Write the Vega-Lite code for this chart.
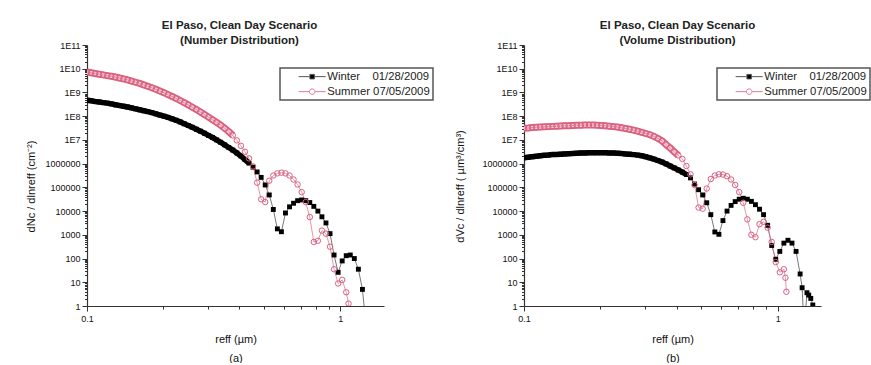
{
  "$schema": "https://vega.github.io/schema/vega-lite/v6.json",
  "background": "white",
  "padding": {"left": 25, "top": 19, "right": 0, "bottom": 0},
  "spacing": 20,
  "config": {
    "view": {"stroke": null},
    "font": "Liberation Sans",
    "axis": {"labelFont": "Liberation Sans", "labelFontSize": 9, "labelColor": "#111", "titleFont": "Liberation Sans", "titleFontSize": 11, "titleFontWeight": "normal", "titleColor": "#111", "domainColor": "#333", "domainWidth": 1.2, "tickColor": "#333", "tickWidth": 1, "grid": false, "labelOverlap": false, "labelBound": false, "labelFlush": false},
    "title": {"font": "Liberation Sans", "fontSize": 11.5, "fontWeight": "bold", "color": "#222", "anchor": "middle", "offset": -5, "lineHeight": 15},
    "legend": {"orient": "none", "legendX": 193, "legendY": 23, "title": null, "padding": 3, "rowPadding": 3, "labelFont": "Liberation Sans", "labelFontSize": 11.3, "labelColor": "#222", "symbolSize": 100, "labelOffset": 33, "strokeColor": "#555"}
  },
  "datasets": {
    "aw": [{"r":0.1,"v":4.68e8},{"r":0.1038,"v":4.47e8},{"r":0.1076,"v":4.17e8},{"r":0.1117,"v":3.98e8},{"r":0.1159,"v":3.72e8},{"r":0.1202,"v":3.55e8},{"r":0.1247,"v":3.31e8},{"r":0.1294,"v":3.02e8},{"r":0.1343,"v":2.82e8},{"r":0.1393,"v":2.63e8},{"r":0.1445,"v":2.45e8},{"r":0.15,"v":2.24e8},{"r":0.1556,"v":2.04e8},{"r":0.1614,"v":1.86e8},{"r":0.1675,"v":1.70e8},{"r":0.1738,"v":1.55e8},{"r":0.1803,"v":1.41e8},{"r":0.1871,"v":1.26e8},{"r":0.1941,"v":1.12e8},{"r":0.2014,"v":1.0e8},{"r":0.2089,"v":8.91e7},{"r":0.2168,"v":7.76e7},{"r":0.2249,"v":6.76e7},{"r":0.2333,"v":5.75e7},{"r":0.2421,"v":4.79e7},{"r":0.2512,"v":4.07e7},{"r":0.2606,"v":3.39e7},{"r":0.2704,"v":2.82e7},{"r":0.2805,"v":2.34e7},{"r":0.2911,"v":1.91e7},{"r":0.302,"v":1.55e7},{"r":0.3133,"v":1.26e7},{"r":0.3251,"v":1.0e7},{"r":0.3373,"v":7.94e6},{"r":0.3499,"v":6.17e6},{"r":0.3631,"v":4.79e6},{"r":0.3767,"v":3.72e6},{"r":0.3908,"v":2.82e6},{"r":0.4055,"v":2.09e6},{"r":0.4207,"v":1.48e6},{"r":0.4365,"v":1.05e6},{"r":0.4529,"v":7.08e5},{"r":0.4699,"v":4.47e5},{"r":0.4875,"v":2.63e5},{"r":0.5058,"v":1.26e5},{"r":0.5248,"v":4.79e4},{"r":0.5445,"v":1.17e4},{"r":0.5649,"v":1.78e3},{"r":0.5861,"v":1.35e3},{"r":0.6081,"v":8.32e3},{"r":0.631,"v":1.51e4},{"r":0.6546,"v":2.14e4},{"r":0.6792,"v":2.75e4},{"r":0.7047,"v":2.95e4},{"r":0.7311,"v":2.75e4},{"r":0.7586,"v":2.29e4},{"r":0.787,"v":1.58e4},{"r":0.8166,"v":1.0e4},{"r":0.8472,"v":5.75e3},{"r":0.879,"v":3.16e3},{"r":0.912,"v":1.12e3},{"r":0.9462,"v":141},{"r":0.9817,"v":26.3},{"r":1.0186,"v":79.4},{"r":1.0568,"v":132},{"r":1.0965,"v":141},{"r":1.1376,"v":100},{"r":1.1803,"v":35.5},{"r":1.2246,"v":5.01},{"r":1.2706,"v":0.1}],
    "as": [{"r":0.1,"v":7.24e9},{"r":0.1038,"v":6.76e9},{"r":0.1076,"v":6.31e9},{"r":0.1117,"v":5.89e9},{"r":0.1159,"v":5.50e9},{"r":0.1202,"v":5.13e9},{"r":0.1247,"v":4.79e9},{"r":0.1294,"v":4.47e9},{"r":0.1343,"v":4.07e9},{"r":0.1393,"v":3.72e9},{"r":0.1445,"v":3.39e9},{"r":0.15,"v":3.02e9},{"r":0.1556,"v":2.69e9},{"r":0.1614,"v":2.40e9},{"r":0.1675,"v":2.09e9},{"r":0.1738,"v":1.82e9},{"r":0.1803,"v":1.58e9},{"r":0.1871,"v":1.35e9},{"r":0.1941,"v":1.15e9},{"r":0.2014,"v":9.77e8},{"r":0.2089,"v":8.13e8},{"r":0.2168,"v":6.76e8},{"r":0.2249,"v":5.62e8},{"r":0.2333,"v":4.57e8},{"r":0.2421,"v":3.72e8},{"r":0.2512,"v":3.02e8},{"r":0.2606,"v":2.40e8},{"r":0.2704,"v":1.91e8},{"r":0.2805,"v":1.51e8},{"r":0.2911,"v":1.17e8},{"r":0.302,"v":9.12e7},{"r":0.3133,"v":7.08e7},{"r":0.3251,"v":5.50e7},{"r":0.3373,"v":4.17e7},{"r":0.3499,"v":3.09e7},{"r":0.3631,"v":2.24e7},{"r":0.3767,"v":1.55e7},{"r":0.3908,"v":9.55e6},{"r":0.4055,"v":5.62e6},{"r":0.4207,"v":3.16e6},{"r":0.4365,"v":1.66e6},{"r":0.4529,"v":7.59e5},{"r":0.4699,"v":1.58e5},{"r":0.4875,"v":3.16e4},{"r":0.5058,"v":2.40e4},{"r":0.5248,"v":1.91e5},{"r":0.5445,"v":3.16e5},{"r":0.5649,"v":3.89e5},{"r":0.5861,"v":4.17e5},{"r":0.6081,"v":3.89e5},{"r":0.631,"v":3.16e5},{"r":0.6546,"v":2.14e5},{"r":0.6792,"v":1.32e5},{"r":0.7047,"v":6.31e4},{"r":0.7311,"v":2.40e4},{"r":0.7586,"v":5.62e3},{"r":0.787,"v":501},{"r":0.8166,"v":562},{"r":0.8472,"v":1.51e3},{"r":0.879,"v":1.12e3},{"r":0.912,"v":316},{"r":0.9462,"v":35.5},{"r":0.9817,"v":8.91},{"r":1.0186,"v":12.6},{"r":1.0568,"v":3.80},{"r":1.079,"v":1.26},{"r":1.097,"v":0.1}],
    "bw": [{"r":0.1,"v":1.78e6},{"r":0.1038,"v":1.86e6},{"r":0.1076,"v":1.95e6},{"r":0.1117,"v":2.04e6},{"r":0.1159,"v":2.14e6},{"r":0.1202,"v":2.24e6},{"r":0.1247,"v":2.29e6},{"r":0.1294,"v":2.40e6},{"r":0.1343,"v":2.45e6},{"r":0.1393,"v":2.51e6},{"r":0.1445,"v":2.57e6},{"r":0.15,"v":2.63e6},{"r":0.1556,"v":2.69e6},{"r":0.1614,"v":2.75e6},{"r":0.1675,"v":2.82e6},{"r":0.1738,"v":2.82e6},{"r":0.1803,"v":2.88e6},{"r":0.1871,"v":2.88e6},{"r":0.1941,"v":2.88e6},{"r":0.2014,"v":2.88e6},{"r":0.2089,"v":2.88e6},{"r":0.2168,"v":2.82e6},{"r":0.2249,"v":2.82e6},{"r":0.2333,"v":2.75e6},{"r":0.2421,"v":2.69e6},{"r":0.2512,"v":2.57e6},{"r":0.2606,"v":2.51e6},{"r":0.2704,"v":2.40e6},{"r":0.2805,"v":2.29e6},{"r":0.2911,"v":2.14e6},{"r":0.302,"v":1.95e6},{"r":0.3133,"v":1.74e6},{"r":0.3251,"v":1.55e6},{"r":0.3373,"v":1.35e6},{"r":0.3499,"v":1.17e6},{"r":0.3631,"v":9.77e5},{"r":0.3767,"v":7.94e5},{"r":0.3908,"v":6.61e5},{"r":0.4055,"v":5.37e5},{"r":0.4207,"v":4.37e5},{"r":0.4365,"v":3.47e5},{"r":0.4529,"v":2.51e5},{"r":0.4699,"v":1.38e5},{"r":0.4875,"v":7.94e4},{"r":0.5058,"v":4.79e4},{"r":0.5248,"v":2.24e4},{"r":0.5445,"v":7.08e3},{"r":0.5649,"v":1.32e3},{"r":0.5861,"v":1.05e3},{"r":0.6081,"v":3.98e3},{"r":0.631,"v":1.0e4},{"r":0.6546,"v":1.74e4},{"r":0.6792,"v":2.51e4},{"r":0.7047,"v":3.16e4},{"r":0.7311,"v":3.47e4},{"r":0.7586,"v":3.16e4},{"r":0.787,"v":2.57e4},{"r":0.8166,"v":1.86e4},{"r":0.8472,"v":1.20e4},{"r":0.879,"v":7.08e3},{"r":0.912,"v":2.51e3},{"r":0.9462,"v":355},{"r":0.9817,"v":93.3},{"r":1.0186,"v":200},{"r":1.0568,"v":447},{"r":1.0965,"v":589},{"r":1.1376,"v":447},{"r":1.1803,"v":200},{"r":1.2246,"v":22.4},{"r":1.247,"v":5.89},{"r":1.2706,"v":0.1},{"r":1.303,"v":3.63},{"r":1.324,"v":2.88},{"r":1.349,"v":2.09},{"r":1.374,"v":1.10},{"r":1.40,"v":0.1}],
    "bs": [{"r":0.1,"v":3.09e7},{"r":0.1038,"v":3.16e7},{"r":0.1076,"v":3.31e7},{"r":0.1117,"v":3.39e7},{"r":0.1159,"v":3.47e7},{"r":0.1202,"v":3.55e7},{"r":0.1247,"v":3.63e7},{"r":0.1294,"v":3.72e7},{"r":0.1343,"v":3.80e7},{"r":0.1393,"v":3.89e7},{"r":0.1445,"v":3.98e7},{"r":0.15,"v":3.98e7},{"r":0.1556,"v":4.07e7},{"r":0.1614,"v":4.17e7},{"r":0.1675,"v":4.17e7},{"r":0.1738,"v":4.27e7},{"r":0.1803,"v":4.27e7},{"r":0.1871,"v":4.27e7},{"r":0.1941,"v":4.17e7},{"r":0.2014,"v":4.07e7},{"r":0.2089,"v":3.98e7},{"r":0.2168,"v":3.80e7},{"r":0.2249,"v":3.63e7},{"r":0.2333,"v":3.47e7},{"r":0.2421,"v":3.24e7},{"r":0.2512,"v":3.02e7},{"r":0.2606,"v":2.82e7},{"r":0.2704,"v":2.57e7},{"r":0.2805,"v":2.34e7},{"r":0.2911,"v":2.09e7},{"r":0.302,"v":1.86e7},{"r":0.3133,"v":1.66e7},{"r":0.3251,"v":1.41e7},{"r":0.3373,"v":1.15e7},{"r":0.3499,"v":9.12e6},{"r":0.3631,"v":6.31e6},{"r":0.3767,"v":4.57e6},{"r":0.3908,"v":3.16e6},{"r":0.4055,"v":2.24e6},{"r":0.4207,"v":1.58e6},{"r":0.4365,"v":7.94e5},{"r":0.4529,"v":3.55e5},{"r":0.4699,"v":1.26e5},{"r":0.4875,"v":1.41e4},{"r":0.5058,"v":1.26e4},{"r":0.5248,"v":8.91e4},{"r":0.5445,"v":2.24e5},{"r":0.5649,"v":3.16e5},{"r":0.5861,"v":3.55e5},{"r":0.6081,"v":3.47e5},{"r":0.631,"v":2.95e5},{"r":0.6546,"v":2.14e5},{"r":0.6792,"v":1.26e5},{"r":0.7047,"v":6.31e4},{"r":0.7311,"v":2.24e4},{"r":0.7586,"v":4.47e3},{"r":0.787,"v":1.0e3},{"r":0.8166,"v":794},{"r":0.8472,"v":2.82e3},{"r":0.879,"v":3.55e3},{"r":0.912,"v":2.0e3},{"r":0.9462,"v":501},{"r":0.9817,"v":70.8},{"r":1.0186,"v":26.3},{"r":1.0568,"v":35.5},{"r":1.072,"v":15.5},{"r":1.081,"v":3.98}]
  },
  "hconcat": [
    {
      "width": 297, "height": 261,
      "title": {"text": ["El Paso, Clean Day Scenario", "(Number Distribution)"], "dx": 4},
      "encoding": {
        "x": {"field": "r", "type": "quantitative", "scale": {"type": "log", "domain": [0.1, 1.49], "nice": false},
          "axis": {"values": [0.1,0.2,0.3,0.4,0.5,0.6,0.7,0.8,0.9,1], "labelExpr": "datum.value == 0.1 ? '0.1' : (datum.value == 1 ? '1' : '')", "tickSize": {"condition": {"test": "datum.value == 0.1 || datum.value == 1", "value": 5}, "value": 3}, "labelPadding": 3, "title": ["reff (µm)", "(a)"], "titleLineHeight": 19, "titlePadding": 10}},
        "y": {"field": "v", "type": "quantitative", "scale": {"type": "log", "domain": [1, 1e11], "nice": false},
          "axis": {"values": [1,2,3,4,5,6,7,8,9,1e1,2e1,3e1,4e1,5e1,6e1,7e1,8e1,9e1,1e2,2e2,3e2,4e2,5e2,6e2,7e2,8e2,9e2,1e3,2e3,3e3,4e3,5e3,6e3,7e3,8e3,9e3,1e4,2e4,3e4,4e4,5e4,6e4,7e4,8e4,9e4,1e5,2e5,3e5,4e5,5e5,6e5,7e5,8e5,9e5,1e6,2e6,3e6,4e6,5e6,6e6,7e6,8e6,9e6,1e7,2e7,3e7,4e7,5e7,6e7,7e7,8e7,9e7,1e8,2e8,3e8,4e8,5e8,6e8,7e8,8e8,9e8,1e9,2e9,3e9,4e9,5e9,6e9,7e9,8e9,9e9,1e10,2e10,3e10,4e10,5e10,6e10,7e10,8e10,9e10,1e11],
            "labelExpr": "abs(log(datum.value)/LN10 - round(log(datum.value)/LN10)) < 0.001 ? (datum.value >= 1e7 ? '1E' + round(log(datum.value)/LN10) : format(datum.value, 'd')) : ''",
            "tickSize": {"condition": {"test": "abs(log(datum.value)/LN10 - round(log(datum.value)/LN10)) < 0.001", "value": 5}, "value": 2.5},
            "labelPadding": 2, "title": "dNc / dlnreff (cm⁻²)", "titleX": -56, "titleY": 141, "titleAngle": 270, "titleBaseline": "middle", "titleAlign": "center"}}
      },
      "layer": [
        {"data": {"name": "aw"}, "transform": [{"filter": "datum.r <= 0.44"}], "mark": {"type": "line", "strokeWidth": 5.5, "color": "#000000", "clip": true}},
        {"data": {"name": "as"}, "transform": [{"filter": "datum.r <= 0.38"}], "mark": {"type": "line", "strokeWidth": 7, "color": "#d9607f", "clip": true}},
        {"data": {"name": "as"}, "transform": [{"filter": "datum.r <= 0.38"}], "mark": {"type": "line", "strokeWidth": 3.5, "color": "#f4cdd8", "clip": true}},
        {"data": {"name": "aw"}, "mark": {"type": "line", "strokeWidth": 0.8, "clip": true},
         "encoding": {"color": {"datum": "Winter\u00a0\u00a0\u00a0\u00a001/28/2009", "scale": {"domain": ["Winter\u00a0\u00a0\u00a0\u00a001/28/2009", "Summer 07/05/2009"], "range": ["#555555", "#e07a95"]},
           "legend": {"encode": {
             "legend": {"update": {"stroke": {"value": "#555555"}, "strokeWidth": {"value": 1.5}}},
             "symbols": {"update": {
               "shape": {"signal": "datum.index === 0 ? 'M2.0,0H4.15M5.25,0H7.4M4.25,-0.45H5.15V0.45H4.25Z' : 'M2.0,0H4.1M5.3,0H7.4M5.25,0A0.55,0.55 0 1,1 4.15,0A0.55,0.55 0 1,1 5.25,0Z'"},
               "fill": {"signal": "datum.index === 0 ? '#000000' : '#ffffff'"},
               "stroke": {"signal": "datum.index === 0 ? '#444444' : '#d9607f'"},
               "strokeWidth": {"value": 1}, "opacity": {"value": 1}}}}}}}},
        {"data": {"name": "as"}, "mark": {"type": "line", "strokeWidth": 0.8, "clip": true},
         "encoding": {"color": {"datum": "Summer 07/05/2009"}}},
        {"data": {"name": "aw"}, "mark": {"type": "point", "shape": "square", "filled": true, "color": "#000000", "size": 24, "opacity": 1, "strokeWidth": 0, "clip": true}},
        {"data": {"name": "as"}, "mark": {"type": "point", "shape": "circle", "filled": false, "color": "#d9607f", "size": 30, "opacity": 1, "strokeWidth": 1, "clip": true}}
      ]
    },
    {
      "width": 297, "height": 261,
      "title": {"text": ["El Paso, Clean Day Scenario", "(Volume Distribution)"], "dx": 5},
      "encoding": {
        "x": {"field": "r", "type": "quantitative", "scale": {"type": "log", "domain": [0.1, 1.48], "nice": false},
          "axis": {"values": [0.1,0.2,0.3,0.4,0.5,0.6,0.7,0.8,0.9,1], "labelExpr": "datum.value == 0.1 ? '0.1' : (datum.value == 1 ? '1' : '')", "tickSize": {"condition": {"test": "datum.value == 0.1 || datum.value == 1", "value": 5}, "value": 3}, "labelPadding": 3, "title": ["reff (µm)", "(b)"], "titleLineHeight": 19, "titlePadding": 10}},
        "y": {"field": "v", "type": "quantitative", "scale": {"type": "log", "domain": [1, 1e11], "nice": false},
          "axis": {"values": [1,2,3,4,5,6,7,8,9,1e1,2e1,3e1,4e1,5e1,6e1,7e1,8e1,9e1,1e2,2e2,3e2,4e2,5e2,6e2,7e2,8e2,9e2,1e3,2e3,3e3,4e3,5e3,6e3,7e3,8e3,9e3,1e4,2e4,3e4,4e4,5e4,6e4,7e4,8e4,9e4,1e5,2e5,3e5,4e5,5e5,6e5,7e5,8e5,9e5,1e6,2e6,3e6,4e6,5e6,6e6,7e6,8e6,9e6,1e7,2e7,3e7,4e7,5e7,6e7,7e7,8e7,9e7,1e8,2e8,3e8,4e8,5e8,6e8,7e8,8e8,9e8,1e9,2e9,3e9,4e9,5e9,6e9,7e9,8e9,9e9,1e10,2e10,3e10,4e10,5e10,6e10,7e10,8e10,9e10,1e11],
            "labelExpr": "abs(log(datum.value)/LN10 - round(log(datum.value)/LN10)) < 0.001 ? (datum.value >= 1e7 ? '1E' + round(log(datum.value)/LN10) : format(datum.value, 'd')) : ''",
            "tickSize": {"condition": {"test": "abs(log(datum.value)/LN10 - round(log(datum.value)/LN10)) < 0.001", "value": 5}, "value": 2.5},
            "labelPadding": 2, "title": "dVc / dlnreff ( µm³/cm³)", "titleX": -64, "titleY": 141, "titleAngle": 270, "titleBaseline": "middle", "titleAlign": "center"}}
      },
      "layer": [
        {"data": {"name": "bw"}, "transform": [{"filter": "datum.r <= 0.45"}], "mark": {"type": "line", "strokeWidth": 5.5, "color": "#000000", "clip": true}},
        {"data": {"name": "bs"}, "transform": [{"filter": "datum.r <= 0.41"}], "mark": {"type": "line", "strokeWidth": 7, "color": "#d9607f", "clip": true}},
        {"data": {"name": "bs"}, "transform": [{"filter": "datum.r <= 0.41"}], "mark": {"type": "line", "strokeWidth": 3.5, "color": "#f4cdd8", "clip": true}},
        {"data": {"name": "bw"}, "mark": {"type": "line", "strokeWidth": 0.8, "clip": true},
         "encoding": {"color": {"datum": "Winter\u00a0\u00a0\u00a0\u00a001/28/2009", "scale": {"domain": ["Winter\u00a0\u00a0\u00a0\u00a001/28/2009", "Summer 07/05/2009"], "range": ["#555555", "#e07a95"]},
           "legend": {"encode": {
             "legend": {"update": {"stroke": {"value": "#555555"}, "strokeWidth": {"value": 1.5}}},
             "symbols": {"update": {
               "shape": {"signal": "datum.index === 0 ? 'M2.0,0H4.15M5.25,0H7.4M4.25,-0.45H5.15V0.45H4.25Z' : 'M2.0,0H4.1M5.3,0H7.4M5.25,0A0.55,0.55 0 1,1 4.15,0A0.55,0.55 0 1,1 5.25,0Z'"},
               "fill": {"signal": "datum.index === 0 ? '#000000' : '#ffffff'"},
               "stroke": {"signal": "datum.index === 0 ? '#444444' : '#d9607f'"},
               "strokeWidth": {"value": 1}, "opacity": {"value": 1}}}}}}}},
        {"data": {"name": "bs"}, "mark": {"type": "line", "strokeWidth": 0.8, "clip": true},
         "encoding": {"color": {"datum": "Summer 07/05/2009"}}},
        {"data": {"name": "bw"}, "mark": {"type": "point", "shape": "square", "filled": true, "color": "#000000", "size": 24, "opacity": 1, "strokeWidth": 0, "clip": true}},
        {"data": {"name": "bs"}, "mark": {"type": "point", "shape": "circle", "filled": false, "color": "#d9607f", "size": 30, "opacity": 1, "strokeWidth": 1, "clip": true}}
      ]
    }
  ],
  "resolve": {"scale": {"color": "independent"}, "legend": {"color": "independent"}}
}
